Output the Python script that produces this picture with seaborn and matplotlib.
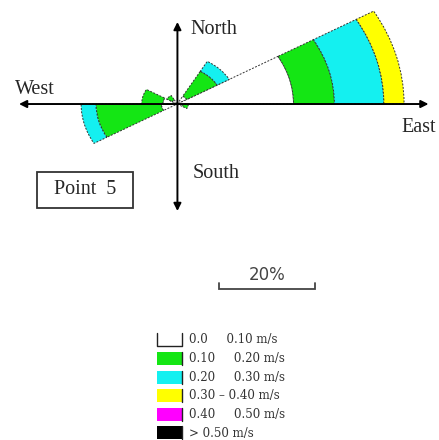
import numpy as np
import matplotlib
matplotlib.use("Agg")
import matplotlib.pyplot as plt
from matplotlib.patches import Rectangle
import seaborn as sns

# Direction sectors: compass bearing of each sector centre (degrees)
bearings = [45, 75, 105, 255, 285, 315]
sector_width = 30

# Speed classes and their fill colours
speed_classes = ["0.0     0.10 m/s", "0.10     0.20 m/s", "0.20     0.30 m/s",
                 "0.30 \u2013 0.40 m/s", "0.40     0.50 m/s", "> 0.50 m/s"]
class_colors = ["#ffffff", "#14e614", "#14f0f0", "#ffff00", "#ff00ff", "#000000"]

# Frequency of occurrence (%) per speed class, one value per sector
freq_0_10 = [2.3, 24.2, 1.2, 3.3, 3.0, 1.2]
freq_10_20 = [7.3, 8.5, 1.1, 13.6, 4.4, 1.3]
freq_20_30 = [2.9, 10.3, 0.0, 3.1, 0.0, 0.0]
freq_30_40 = [0.0, 4.2, 0.0, 0.0, 0.0, 0.0]
freq_40_50 = [0.0, 0.0, 0.0, 0.0, 0.0, 0.0]
freq_over_50 = [0.0, 0.0, 0.0, 0.0, 0.0, 0.0]

station = "Point  5"
scale_pct = 20

series = [freq_0_10, freq_10_20, freq_20_30, freq_30_40, freq_40_50, freq_over_50]

sns.set_theme(style="white")
plt.rcParams["font.family"] = ["Liberation Serif", "DejaVu Serif"]

W, H = 439, 440
fig = plt.figure(figsize=(4.395, 4.40), dpi=100)
fig.patch.set_facecolor("white")

# Rose: polar axes, slightly flattened vertically
r_max = 48
ax = fig.add_axes([-0.1216, 0.3341, 1.0497, 0.859], projection="polar")
ax.set_theta_zero_location("N")
ax.set_theta_direction(-1)
ax.set_aspect("auto")
ax.set_ylim(0, r_max)
ax.axis("off")

theta = np.deg2rad(bearings)
width = np.deg2rad(sector_width)
bottom = np.zeros(len(bearings))
for vals, col in zip(series, class_colors):
    vals = np.asarray(vals, dtype=float)
    keep = vals > 0
    if keep.any():
        ax.bar(theta[keep], vals[keep], width=width, bottom=bottom[keep],
               color=col, edgecolor="#333333", linewidth=0.7,
               linestyle=(0, (2, 1.5)), align="center")
    bottom += vals
ax.set_ylim(0, r_max)

# Overlay in pixel units for compass arrows, labels and the legend
ov = fig.add_axes([0, 0, 1, 1], facecolor="none")
ov.set_xlim(0, W)
ov.set_ylim(H, 0)
ov.axis("off")


def to_px(th, r):
    x, y = ax.transData.transform((th, r))
    return x, H - y


cx, cy = to_px(0.0, 0.0)
arrow_kw = dict(arrowstyle="<|-|>", color="black", lw=1.4,
                mutation_scale=11, shrinkA=0, shrinkB=0)
ov.annotate("", xy=(cx, 22), xytext=(cx, 211), arrowprops=arrow_kw)
ov.annotate("", xy=(428, cy), xytext=(19, cy), arrowprops=arrow_kw)

ov.text(cx + 13, 29, "North", fontsize=14.5, ha="left", va="center")
ov.text(15, 90, "West", fontsize=14.5, ha="left", va="center")
ov.text(401, 128, "East", fontsize=14.5, ha="left", va="center")
ov.text(cx + 15, 174, "South", fontsize=14.5, ha="left", va="center")

ov.add_patch(Rectangle((37, 172), 96, 36, fill=False, ec="#333333", lw=1.3))
ov.text(85, 190, station, fontsize=14.5, ha="center", va="center")

# Scale bar tied to the radial scale of the rose
px_scale = to_px(np.deg2rad(90), scale_pct)[0] - cx
x0, yb = 219, 289
ov.plot([x0, x0, x0 + px_scale, x0 + px_scale], [283, yb, yb, 283],
        color="#444444", lw=1.3, solid_joinstyle="miter")
ov.text(x0 + px_scale / 2, 275, f"{scale_pct}%", fontsize=12, color="#444444",
        ha="center", va="center", family=["DejaVu Sans"])

# Speed-class legend
for i, (lab, col) in enumerate(zip(speed_classes, class_colors)):
    y = 340 + i * 18.6
    if i == 0:
        ov.plot([157, 157, 182, 182], [y - 6.5, y + 6.5, y + 6.5, y - 6.5],
                color="#222222", lw=1.0)
    else:
        ov.add_patch(Rectangle((157, y - 6.5), 25, 13, fc=col, ec="none"))
        ov.plot([182, 182], [y - 6.5, y + 6.5], color="#222222", lw=1.0)
    ov.text(189, y, lab, fontsize=8.5, ha="left", va="center", color="#333333",
            family=["DejaVu Serif"])

fig.savefig("out.png", dpi=100, facecolor="white")
